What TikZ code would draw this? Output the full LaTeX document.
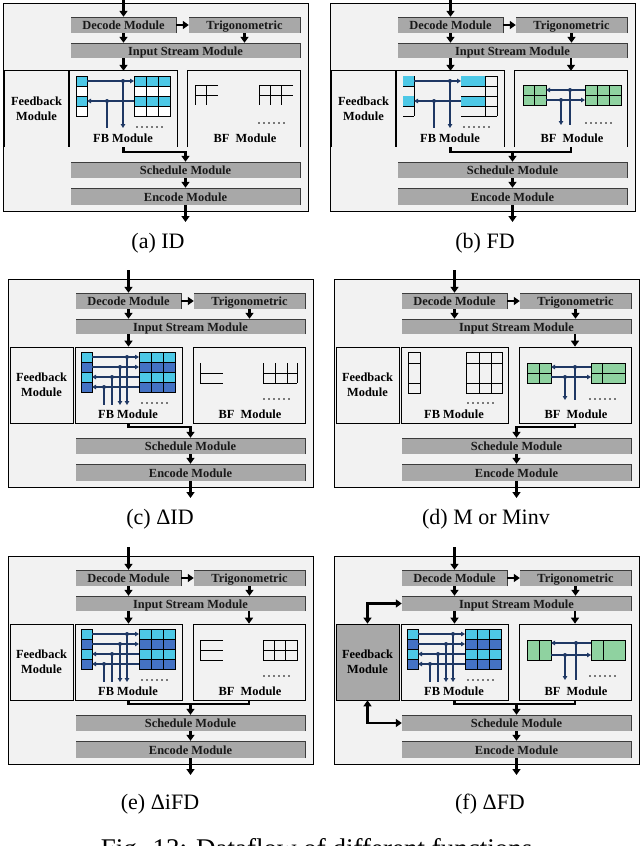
\documentclass[tikz,border=0pt]{standalone}
\usepackage{fontspec}
\setmainfont{Liberation Serif}
\usetikzlibrary{arrows.meta}
\definecolor{bgc}{RGB}{242,242,242}
\definecolor{modgray}{RGB}{168,168,168}
\definecolor{edgec}{RGB}{60,60,60}
\definecolor{navyc}{RGB}{31,56,100}
\definecolor{cyanc}{RGB}{77,200,230}
\definecolor{bluec}{RGB}{68,114,196}
\definecolor{greenc}{RGB}{143,210,160}

\newcommand\modfont{\bfseries\fontsize{12.4}{15}\selectfont}

\tikzset{
 panelbg/.style={fill=bgc, draw=black, line width=0.7pt, inner sep=0pt, minimum width=305pt, minimum height=208pt},
 modbox/.style={fill=modgray, inner sep=0pt, font=\modfont, text=black!90, text height=10.5pt, text depth=1.5pt},
 edgeline/.style={draw=edgec, line width=0.6pt},
 innerbox/.style={inner sep=0pt, font=\modfont, align=center},
 bigline/.style={line width=2.2pt, black},
 bigarr/.style={bigline, -{Triangle[length=6pt,width=8pt]}},
 bigdbl/.style={bigline, {Triangle[length=6pt,width=8pt]}-{Triangle[length=6pt,width=8pt]}},
 navy/.style={draw=navyc, line width=1.2pt},
 navyarr/.style={navy, -{Triangle[length=4pt,width=4.5pt]}},
 gridline/.style={draw=black, line width=0.6pt},
 caption/.style={font=\fontsize{22}{26}\selectfont, anchor=base},
}

\newcommand\navydot[1]{\fill[navyc] #1 circle (2pt);}
\newcommand\dotrow[2]{\foreach \i in {0,...,5} {\fill (#1+5*\i,#2) circle (0.9pt);}}

\newcommand\basepanel[3]{%
 \node[panelbg] (#1pan) at (155.5,107) {};
 \node[modbox, minimum width=105pt, minimum height=16pt] (#1dec) at (123.5,25) {Decode Module};
 \node[modbox, minimum width=111pt, minimum height=16pt] (#1trig) at (244.5,25) {Trigonometric};
 \node[modbox, minimum width=229pt, minimum height=15pt] (#1inp) at (185.5,50.5) {Input Stream Module};
 \node[modbox, minimum width=229pt, minimum height=16pt] (#1sch) at (185.5,170) {Schedule Module};
 \node[modbox, minimum width=229pt, minimum height=17pt] (#1enc) at (185.5,196.5) {Encode Module};
 \foreach \n in {dec,trig,inp,sch,enc} {\draw[edgeline] (#1\n.south east) |- (#1\n.north west);}
 \ifnum#2=1
  \node[innerbox, fill=#3, minimum width=63pt, minimum height=76pt] (#1fbk) at (36.5,109) {Feedback\\Module};
  \node[innerbox, minimum width=107pt, minimum height=76pt] (#1fb) at (123.5,109) {};
  \node[innerbox, minimum width=112pt, minimum height=76pt] (#1bf) at (244,109) {};
  \foreach \n in {fbk,fb,bf} {\draw[line width=0.7pt] (#1\n.south west) |- (#1\n.north east) -- (#1\n.south east);}
 \else
  \node[innerbox, draw, line width=0.7pt, fill=#3, minimum width=63pt, minimum height=76pt] (#1fbk) at (36.5,109) {Feedback\\Module};
  \node[innerbox, draw, line width=0.7pt, minimum width=107pt, minimum height=76pt] (#1fb) at (123.5,109) {};
  \node[innerbox, draw, line width=0.7pt, minimum width=112pt, minimum height=76pt] (#1bf) at (244,109) {};
 \fi
 \node[font=\modfont, inner sep=0pt] (#1fbl) at (123,138) {FB Module};
 \node[font=\modfont, inner sep=0pt] (#1bfl) at (245,138) {BF\ \ Module};
 \dotrow{137}{127}
 \dotrow{259}{123}
 \coordinate (#1in) at (123.5,-6);
 \coordinate (#1out) at (185.5,222);
 \draw[bigarr] (#1in) -- (#1dec.north);
 \draw[bigarr] (#1dec.east) -- (#1trig.west);
 \draw[bigarr] (#1dec.south) -- (#1dec.south |- #1inp.north);
 \draw[bigarr] (#1trig.south) -- (#1trig.south |- #1inp.north);
 \draw[bigarr] (#1sch.south) -- (#1enc.north);
 \draw[bigarr] (#1enc.south) -- (#1out);
}

\newcommand\fbcells[4]{%
 \foreach \c [count=\r from 0] in {#1,#2,#3,#4} {
   \fill[\c] (76,76+10*\r) rectangle (87,86+10*\r);
   \fill[\c] (134,76+10*\r) rectangle (170,86+10*\r);
 }
 \draw[gridline] (76,76) rectangle (87,116);
 \draw[gridline] (134,76) rectangle (170,116);
 \foreach \y in {86,96,106} {\draw[gridline] (76,\y) -- (87,\y); \draw[gridline] (134,\y) -- (170,\y);}
 \foreach \x in {146,158} {\draw[gridline] (\x,76) -- (\x,116);}
}

\newcommand\fbfour{%
 \draw[navyarr] (87,81) -- (134,81);
 \draw[navyarr] (87,91) -- (134,91);
 \draw[navyarr] (134,101) -- (87,101);
 \draw[navyarr] (134,111) -- (87,111);
 \draw[navyarr] (122,81) -- (122,129);
 \draw[navyarr] (115,91) -- (115,129);
 \draw[navy] (107,101) -- (107,129);
 \draw[navy] (99,111) -- (99,129);
 \navydot{(122,81)}\navydot{(115,91)}\navydot{(107,101)}\navydot{(99,111)}
}

\newcommand\fbtwo{%
 \draw[navyarr] (87,81) -- (134,81);
 \draw[navyarr] (123,81) -- (123,128);
 \draw[navyarr] (134,101) -- (87,101);
 \draw[navy] (107,101) -- (107,128);
 \navydot{(123,81)}\navydot{(107,101)}
}

\begin{document}
\begin{tikzpicture}[x=1pt,y=-1pt]
\useasboundingbox (0,0) rectangle (640,846);

% ---------- (a) ID ----------
\begin{scope}[shift={(0,0)}]
 \basepanel{a}{1}{bgc}
 \fbcells{cyanc}{white}{cyanc}{white}
 \fbtwo
 \draw[gridline] (218,85) -- (195,85) -- (195,105) (195,95) -- (218,95) (206,85) -- (206,105);
 \draw[gridline] (293,85) -- (259,85) -- (259,105) (259,95) -- (293,95) (270,85) -- (270,105) (281,85) -- (281,105);
 \draw[bigarr] (ainp.south -| afb.north) -- (afb.north);
 \draw[bigarr] (afb.south) -- ++(0,5) -| (asch.north);
\end{scope}

% ---------- (b) FD ----------
\begin{scope}[shift={(327,0)}]
 \basepanel{b}{1}{bgc}
 \fill[cyanc] (76,76) rectangle (87,86);
 \fill[cyanc] (76,96) rectangle (87,106);
 \draw[gridline] (87,76) -- (87,116) (76,86) -- (87,86) (76,106) -- (87,106) (76,116) -- (87,116);
 \fill[cyanc] (134,76) rectangle (158,86);
 \fill[cyanc] (134,96) rectangle (158,106);
 \draw[gridline] (158,76) -- (170,76) -- (170,116) (158,76) -- (158,116);
 \foreach \y in {86,96,106,116} {\draw[gridline] (134,\y) -- (170,\y);}
 \fbtwo
 \fill[greenc] (196,85) rectangle (219,105);
 \draw[gridline] (196,85) rectangle (219,105) (207.5,85) -- (207.5,105) (196,95) -- (219,95);
 \fill[greenc] (258,85) rectangle (294,105);
 \draw[gridline] (258,85) rectangle (294,105) (270,85) -- (270,105) (282,85) -- (282,105) (258,95) -- (294,95);
 \draw[navyarr] (258,90) -- (219,90);
 \draw[navyarr] (219,100) -- (258,100);
 \draw[navy] (243,90) -- (243,125);
 \draw[navyarr] (234,100) -- (234,125);
 \navydot{(243,90)}\navydot{(234,100)}
 \draw[bigarr] (binp.south -| bfb.north) -- (bfb.north);
 \draw[bigarr] (binp.south -| bbf.north) -- (bbf.north);
 \draw[bigline] (bfb.south) -- ++(0,5) -| (bbf.south);
 \coordinate (bjoin) at (185.5,152);
 \draw[bigarr] (bjoin) -- (bsch.north);
\end{scope}

% ---------- (c) dID ----------
\begin{scope}[shift={(5,276)}]
 \basepanel{c}{0}{bgc}
 \fbcells{cyanc}{bluec}{cyanc}{bluec}
 \fbfour
 \draw[gridline] (195,87) -- (195,107) -- (218,107) (195,97) -- (218,97);
 \draw[gridline] (258,87) -- (258,107) -- (292,107) (270,87) -- (270,107) (282,87) -- (282,107) (292,87) -- (292,107) (258,97) -- (292,97);
 \draw[bigarr] (cinp.south -| cfb.north) -- (cfb.north);
 \draw[bigarr] (cfb.south) -- ++(0,4) -| (csch.north);
\end{scope}

% ---------- (d) M or Minv ----------
\begin{scope}[shift={(331,276)}]
 \basepanel{d}{0}{bgc}
 \draw[gridline] (77,76) rectangle (89,117) (77,87) -- (89,87) (77,107) -- (89,107);
 \draw[gridline] (135,76) rectangle (171,117) (148,76) -- (148,117) (160,76) -- (160,117) (135,87) -- (171,87) (135,107) -- (171,107);
 \fill[greenc] (196,87) rectangle (220,107);
 \draw[gridline] (196,87) rectangle (220,107) (208,87) -- (208,107) (196,97) -- (220,97);
 \fill[greenc] (260,87) rectangle (294,107);
 \draw[gridline] (260,87) rectangle (294,107) (271,87) -- (271,107) (260,97) -- (294,97);
 \draw[navyarr] (260,91) -- (220,91);
 \draw[navyarr] (220,101) -- (260,101);
 \draw[navy] (244,91) -- (244,124);
 \draw[navyarr] (234,101) -- (234,124);
 \navydot{(244,91)}\navydot{(234,101)}
 \draw[bigarr] (dinp.south -| dbf.north) -- (dbf.north);
 \draw[bigarr] (dbf.south) -- ++(0,4) -| (dsch.north);
\end{scope}

% ---------- (e) diFD ----------
\begin{scope}[shift={(5,553)}]
 \basepanel{e}{0}{bgc}
 \fbcells{cyanc}{bluec}{cyanc}{bluec}
 \fbfour
 \draw[gridline] (218,87) -- (195,87) -- (195,107) -- (218,107) (195,97) -- (218,97);
 \draw[gridline] (258,87) rectangle (292,107) (269.3,87) -- (269.3,107) (280.7,87) -- (280.7,107) (258,97) -- (292,97);
 \draw[bigarr] (einp.south -| efb.north) -- (efb.north);
 \draw[bigarr] (einp.south -| ebf.north) -- (ebf.north);
 \draw[bigline] (efb.south) -- ++(0,4) -| (ebf.south);
 \coordinate (ejoin) at (185.5,151);
 \draw[bigarr] (ejoin) -- (esch.north);
\end{scope}

% ---------- (f) dFD ----------
\begin{scope}[shift={(331,553)}]
 \basepanel{f}{0}{modgray}
 \fbcells{cyanc}{bluec}{cyanc}{bluec}
 \fbfour
 \fill[greenc] (196,87) rectangle (220,107);
 \draw[gridline] (196,87) rectangle (220,107) (208,87) -- (208,107);
 \fill[greenc] (260,87) rectangle (294,107);
 \draw[gridline] (260,87) rectangle (294,107) (272,87) -- (272,107);
 \draw[navyarr] (260,90) -- (220,90);
 \draw[navyarr] (220,102) -- (260,102);
 \draw[navy] (245,90) -- (245,127);
 \draw[navyarr] (234,102) -- (234,127);
 \navydot{(245,90)}\navydot{(234,102)}
 \draw[bigarr] (finp.south -| ffb.north) -- (ffb.north);
 \draw[bigarr] (finp.south -| fbf.north) -- (fbf.north);
 \draw[bigline] (ffb.south) -- ++(0,4) -| (fbf.south);
 \coordinate (fjoin) at (185.5,151);
 \draw[bigarr] (fjoin) -- (fsch.north);
 \draw[bigdbl] (finp.west) -| (ffbk.north);
 \draw[bigdbl] (fsch.west) -| (ffbk.south);
\end{scope}

% ---------- captions ----------
\node[caption] (capa) at (158,248) {(a) ID};
\node[caption] (capb) at (485,248) {(b) FD};
\node[caption] (capc) at (160,524) {(c) ΔID};
\node[caption] (capd) at (486,524) {(d) M or Minv};
\node[caption] (cape) at (160,809) {(e) ΔiFD};
\node[caption] (capf) at (490,809) {(f) ΔFD};
\node[font=\fontsize{27}{30}\selectfont, anchor=base] (figcap) at (320,857) {Fig. 13: Dataflow of different functions.};
\end{tikzpicture}
\end{document}
